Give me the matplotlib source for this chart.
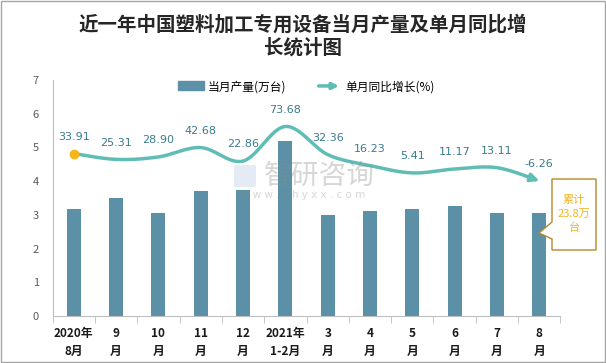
import numpy as np
import matplotlib
matplotlib.use("Agg")
import matplotlib.pyplot as plt
from matplotlib.patches import Patch, Polygon, Rectangle, FancyArrowPatch
from matplotlib.legend_handler import HandlerBase

plt.rcParams['font.family'] = ['Noto Sans CJK SC', 'DejaVu Sans']

# data
months = ['2020年\n8月', '9\n月', '10\n月', '11\n月', '12\n月', '2021年\n1-2月',
          '3\n月', '4\n月', '5\n月', '6\n月', '7\n月', '8\n月']
output = [3.18, 3.50, 3.07, 3.72, 3.75, 5.18, 2.99, 3.10, 3.16, 3.25, 3.07, 3.05]
growth = [33.91, 25.31, 28.90, 42.68, 22.86, 73.68, 32.36, 16.23, 5.41, 11.17, 13.11, -6.26]

BAR = '#5b90a6'
LINE = '#5fbdb5'
LABEL = '#3a7b8c'
ORANGE = '#f5b51b'


def smooth(xs, ys, n=30, t=0.5):
    # catmull-rom style curve through the points, only for drawing
    xs = np.asarray(xs, float)
    ys = np.asarray(ys, float)
    px = np.concatenate([[xs[0]], xs, [xs[-1]]])
    py = np.concatenate([[ys[0]], ys, [ys[-1]]])
    outx, outy = [], []
    for i in range(1, len(px) - 2):
        p0, p1, p2, p3 = [np.array([px[j], py[j]]) for j in range(i - 1, i + 3)]
        c1 = p1 + (p2 - p0) * t / 3
        c2 = p2 - (p3 - p1) * t / 3
        s = np.linspace(0, 1, n, endpoint=False)[:, None]
        pts = (1 - s) ** 3 * p1 + 3 * (1 - s) ** 2 * s * c1 + 3 * (1 - s) * s ** 2 * c2 + s ** 3 * p2
        outx.extend(pts[:, 0])
        outy.extend(pts[:, 1])
    outx.append(xs[-1])
    outy.append(ys[-1])
    return np.array(outx), np.array(outy)


class ArrowHandler(HandlerBase):
    def create_artists(self, legend, orig_handle, xdescent, ydescent, width, height, fontsize, trans):
        a = FancyArrowPatch((-xdescent, height / 2 - ydescent), (width - xdescent, height / 2 - ydescent),
                            arrowstyle='-|>', mutation_scale=9, color=LINE, lw=2.5, transform=trans)
        return [a]


fig = plt.figure(figsize=(6.06, 3.63), dpi=100)
W, H = 606, 363
ax = fig.add_axes([0.0868, 0.1295, 0.838, 0.650])
x = np.arange(len(months))

ax.bar(x, output, width=0.33, color=BAR, zorder=2)
ax.set_xlim(-0.5, len(months) - 0.5)
ax.set_ylim(0, 7)
ax.set_yticks(range(8))
ax.tick_params(axis='y', length=0, labelsize=8, labelcolor='#595959', pad=10)
ax.set_xticks(x)
ax.set_xticklabels(months, fontsize=8.5, fontweight='bold', color='#1a1a1a', linespacing=1.5)
ax.tick_params(axis='x', length=0, pad=8)
ax.set_xticks(np.arange(-0.5, len(months)), minor=True)
ax.tick_params(axis='x', which='minor', length=5, color='#bfbfbf')
for s in ['top', 'right']:
    ax.spines[s].set_visible(False)
ax.spines['left'].set_color('#bfbfbf')
ax.spines['bottom'].set_color('#bfbfbf')

ax2 = ax.twinx()
ax2.set_ylim(-205, 142)
ax2.axis('off')
sx, sy = smooth(x, growth)
cut = len(sx) - 6
ax2.plot(sx[:cut + 1], sy[:cut + 1], color=LINE, lw=2.5, zorder=3, solid_capstyle='butt')
ax2.annotate('', xy=(sx[-1], sy[-1]), xytext=(sx[cut], sy[cut]),
             arrowprops=dict(arrowstyle='-|>', color=LINE, lw=2.5, mutation_scale=12,
                             shrinkA=0, shrinkB=0))
ax2.plot(x[0], growth[0], 'o', color=ORANGE, ms=6, zorder=4)
for xi, g in zip(x, growth):
    ax2.annotate(f'{g:.2f}', (xi, g), xytext=(0, 12), textcoords='offset points',
                 ha='center', va='center', fontsize=8, color=LABEL, family='DejaVu Sans')

handles = [Patch(color=BAR), Patch(color=LINE)]
ax.legend(handles, ['当月产量(万台)', '单月同比增长(%)'], handler_map={handles[1]: ArrowHandler()},
          loc='upper center', bbox_to_anchor=(0.5, 1.045), ncol=2, frameon=False, fontsize=8.5,
          handlelength=2.2, handleheight=0.8, columnspacing=2.5, handletextpad=0.3)

fig.text(0.5, 1 - 36 / H, '近一年中国塑料加工专用设备当月产量及单月同比增\n长统计图', ha='center', va='center',
         fontsize=14, fontweight='bold', color='#262626', linespacing=1.2)

# watermark
fig.text(319 / W, 1 - 176 / H, '智研咨询', ha='center', va='center', fontsize=20, color='#8c8c8c', alpha=0.35)
fig.text(303 / W, 1 - 195 / H, 'w w w . c h y x x . c o m', ha='center', va='center', fontsize=7.5,
         color='#8c8c8c', alpha=0.35, family='DejaVu Sans')
fig.patches.append(Rectangle((234 / W, 1 - 187 / H), 22 / W, 22 / H, transform=fig.transFigure,
                             facecolor='#d5deee', alpha=0.6, edgecolor='none', zorder=0))

# callout
pts = [(552, 179), (596, 179), (596, 250), (552, 250), (552, 239), (539, 233), (552, 222)]
fig.patches.append(Polygon([(px / W, 1 - py / H) for px, py in pts], closed=True, transform=fig.transFigure,
                           facecolor='white', edgecolor='#b8892a', lw=1, zorder=5))
fig.text(574 / W, 1 - 214 / H, f'累计\n{sum(output[5:]):.1f}万\n台', ha='center', va='center',
         fontsize=8, color=ORANGE, linespacing=1.5, zorder=6)

fig.patches.append(Rectangle((0.001, 0.002), 0.997, 0.996, transform=fig.transFigure, fill=False,
                             edgecolor='#a6a6a6', lw=1))

fig.savefig('out.png', dpi=100)
